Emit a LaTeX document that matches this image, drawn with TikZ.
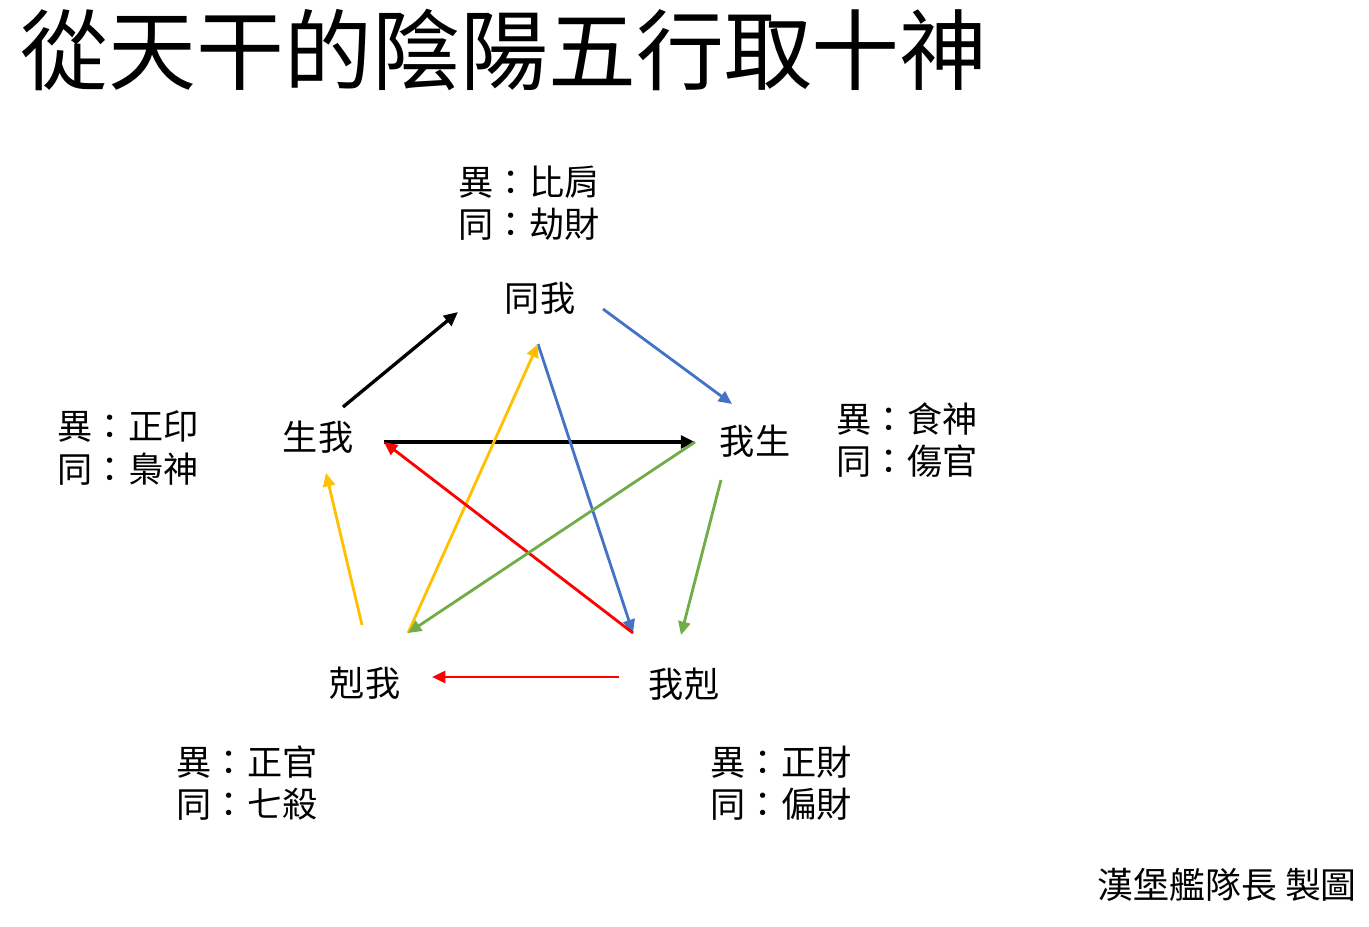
\documentclass[tikz,border=0pt]{standalone}
\usepackage{fontspec}
\setmainfont{Noto Sans CJK TC}
\usetikzlibrary{arrows.meta}
\definecolor{oblue}{HTML}{4472C4}
\definecolor{ogreen}{HTML}{70AD47}
\definecolor{oyellow}{HTML}{FFC000}
\definecolor{ored}{HTML}{FF0000}
\begin{document}
\begin{tikzpicture}[x=0.01cm,y=-0.01cm,
  lbl/.style={inner sep=0pt,font=\fontsize{10}{12}\selectfont},
  info/.style={inner sep=0pt,anchor=west,align=left,font=\fontsize{10}{12}\selectfont},
  arr/.style={line width=0.8pt,-{Triangle[length=3.8pt,width=3.4pt]}},
  barr/.style={line width=0.95pt,-{Triangle[length=4pt,width=3.6pt]}}]
\path[use as bounding box] (0,0) rectangle (1369,927);
% title
\node[inner sep=0pt,anchor=west,font=\fontsize{25}{28}\selectfont] (title) at (20,50) {從天干的陰陽五行取十神};
% main nodes
\node[lbl] (tw) at (540,298) {同我};
\node[lbl] (sw) at (318,437) {生我};
\node[lbl] (ws) at (755,441) {我生};
\node[lbl] (kw) at (365,683) {剋我};
\node[lbl] (wk) at (684,684) {我剋};
% info labels
\node[info] (itw) at (458,203) {異：比肩\\同：劫財};
\node[info] (isw) at (57,448) {異：正印\\同：梟神};
\node[info] (iws) at (836,440) {異：食神\\同：傷官};
\node[info] (ikw) at (176,783) {異：正官\\同：七殺};
\node[info] (iwk) at (710,783) {異：正財\\同：偏財};
\node[inner sep=0pt,anchor=west,font=\fontsize{10.2}{12}\selectfont] (author) at (1097,885) {漢堡艦隊長 製圖};
% anchor points
\coordinate (swTR) at (343,407);
\coordinate (twL) at (458,312);
\coordinate (twR) at (603,309);
\coordinate (wsTL) at (732,404);
\coordinate (swR) at (384,442);
\coordinate (wsL) at (695,442);
\coordinate (twB) at (538,344);
\coordinate (kwT) at (408,633);
\coordinate (wkT) at (633,633);
\coordinate (wsB) at (721,480);
\coordinate (wkTR) at (681,635);
\coordinate (wkL) at (619,677);
\coordinate (kwR) at (432,677);
\coordinate (kwTL) at (362,625);
\coordinate (swB) at (326,473);
% connectors
\draw[barr] (swTR) -- (twL);
\draw[barr] (swR) -- (wsL);
\draw[arr,oblue] (twR) -- (wsTL);
\draw[arr,oblue] (twB) -- (wkT);
\draw[arr,oyellow] (kwT) -- (twB);
\draw[arr,ored] (wkT) -- (swR);
\draw[arr,ogreen] (wsL) -- (kwT);
\draw[arr,ogreen] (wsB) -- (wkTR);
\draw[arr,ored] (wkL) -- (kwR);
\draw[arr,oyellow] (kwTL) -- (swB);
\end{tikzpicture}
\end{document}
